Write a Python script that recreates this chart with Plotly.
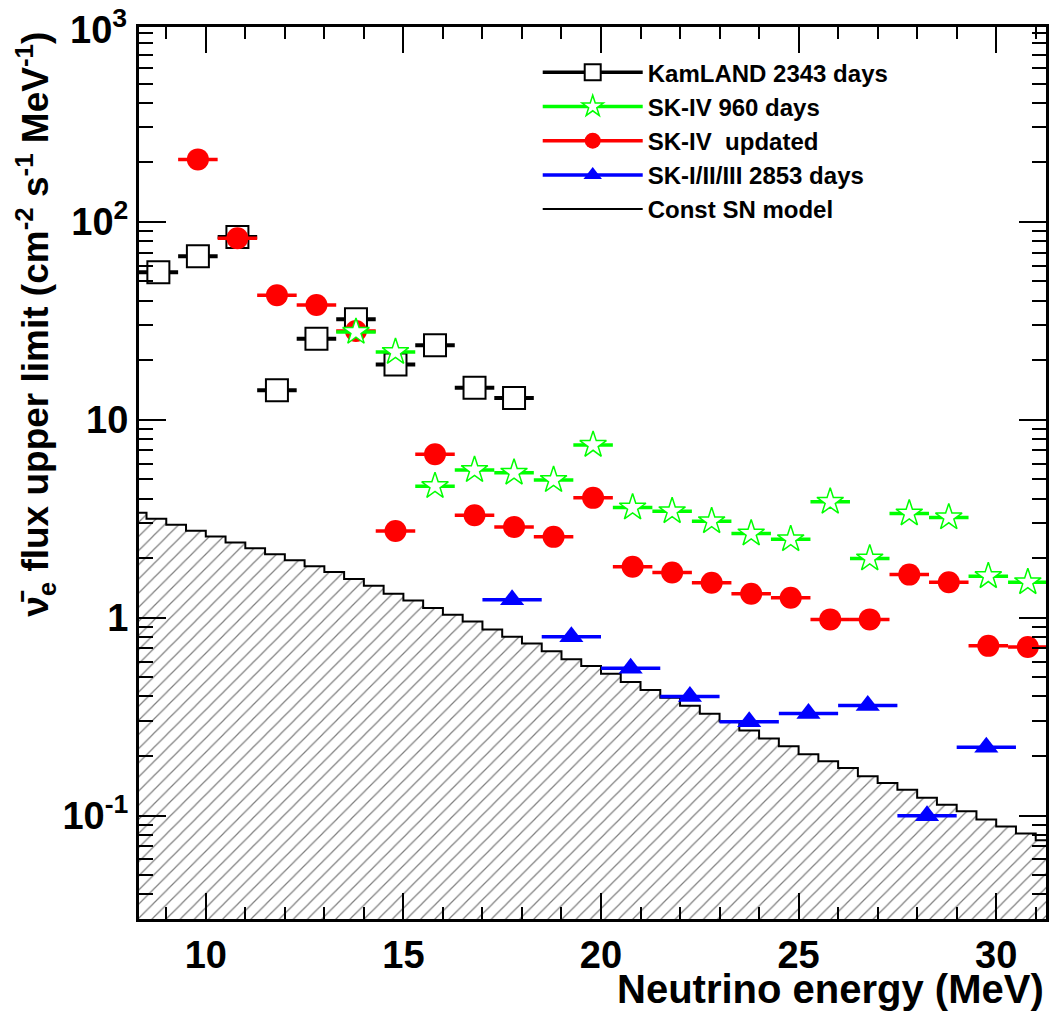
import plotly.graph_objects as go

# ---------------- data ----------------
kam_E = [8.8, 9.8, 10.8, 11.8, 12.8, 13.8, 14.8, 15.8, 16.8, 17.8]
kam_flux = [55.6, 67.0, 84.0, 14.1, 25.7, 32.2, 19.0, 23.8, 14.5, 12.9]
kam_halfwidth = 0.5

sk4_960_E = [13.8, 14.8, 15.8, 16.8, 17.8, 18.8, 19.8, 20.8, 21.8, 22.8,
             23.8, 24.8, 25.8, 26.8, 27.8, 28.8, 29.8, 30.8]
sk4_960_flux = [27.8, 22.0, 4.62, 5.57, 5.40, 4.96, 7.46, 3.60, 3.45, 3.07,
                2.66, 2.49, 3.85, 1.99, 3.36, 3.21, 1.62, 1.51]
sk4_960_halfwidth = 0.5

sk4_upd_E = [9.8, 10.8, 11.8, 12.8, 13.8, 14.8, 15.8, 16.8, 17.8, 18.8, 19.8,
             20.8, 21.8, 22.8, 23.8, 24.8, 25.8, 26.8, 27.8, 28.8, 29.8, 30.8]
sk4_upd_flux = [207.0, 82.6, 42.6, 38.0, 28.1, 2.74, 6.70, 3.29, 2.87, 2.56, 4.03,
                1.81, 1.69, 1.50, 1.32, 1.26, 0.98, 0.98, 1.65, 1.51, 0.72, 0.71]
sk4_upd_halfwidth = 0.5

sk123_E = [17.75, 19.25, 20.75, 22.25, 23.75, 25.25, 26.75, 28.25, 29.75]
sk123_flux = [1.23, 0.80, 0.555, 0.40, 0.298, 0.328, 0.36, 0.0996, 0.221]
sk123_halfwidth = 0.75

# Constant SN model (step edges and values)
sn_E = [8.0, 8.5, 9.0, 9.5, 10.0, 10.5, 11.0, 11.5, 12.0, 12.5, 13.0, 13.5,
        14.0, 14.5, 15.0, 15.5, 16.0, 16.5, 17.0, 17.5, 18.0, 18.5, 19.0, 19.5,
        20.0, 20.5, 21.0, 21.5, 22.0, 22.5, 23.0, 23.5, 24.0, 24.5, 25.0, 25.5,
        26.0, 26.5, 27.0, 27.5, 28.0, 28.5, 29.0, 29.5, 30.0, 30.5, 31.0, 31.5]
sn_flux = [3.39, 3.16, 2.95, 2.75, 2.57, 2.40, 2.24, 2.09, 1.95, 1.82, 1.70, 1.57,
           1.45, 1.32, 1.22, 1.12, 1.035, 0.955, 0.87, 0.80, 0.74, 0.676, 0.617, 0.569,
           0.52, 0.473, 0.431, 0.394, 0.359, 0.327, 0.299, 0.269, 0.245, 0.224, 0.204, 0.188,
           0.174, 0.158, 0.146, 0.135, 0.123, 0.1135, 0.105, 0.0955, 0.088, 0.081, 0.075, 0.069]

y_tickvals = [0.1, 1, 10, 100]
y_ticktext = ["10<sup>-1</sup>", "1", "10", "10<sup>2</sup>"]
y_top_label = "10<sup>3</sup>"

FONT = "Liberation Sans, Arial, Helvetica, sans-serif"

fig = go.Figure()

# hatched model area
fig.add_trace(go.Scatter(
    x=sn_E, y=sn_flux, mode="lines", line=dict(width=0, shape="hv", color="black"),
    fill="tozeroy", fillcolor="white",
    fillpattern=dict(shape="/", fgcolor="black", bgcolor="white", size=10, solidity=0.12),
    showlegend=False, hoverinfo="skip"))
fig.add_trace(go.Scatter(
    x=sn_E, y=sn_flux, mode="lines", line=dict(width=2, shape="hv", color="black"),
    showlegend=False))

def add_series(x, y, hw, color, symbol, size, fill, lw, barw):
    fig.add_trace(go.Scatter(
        x=x, y=y, mode="markers",
        marker=dict(symbol=symbol, size=size, color=fill, line=dict(color=color, width=lw)),
        error_x=dict(type="constant", value=hw, color=color, thickness=barw, width=0),
        showlegend=False))

add_series(kam_E, kam_flux, kam_halfwidth, "black", "square", 22, "white", 2, 4)
add_series(sk4_upd_E, sk4_upd_flux, sk4_upd_halfwidth, "red", "circle", 22, "red", 0, 3.5)
add_series(sk4_960_E, sk4_960_flux, sk4_960_halfwidth, "#00ff00", "star", 20, "white", 1.5, 3.5)
add_series(sk123_E, sk123_flux, sk123_halfwidth, "blue", "triangle-up", 21, "blue", 0, 3.5)

# legend entries
def legend_entry(name, color, symbol, fill, lw_marker, lw_line):
    fig.add_trace(go.Scatter(
        x=[None], y=[None], mode="lines+markers" if symbol else "lines", name=name,
        line=dict(color=color, width=lw_line),
        marker=dict(symbol=symbol or "circle", size=16, color=fill,
                    line=dict(color=color, width=lw_marker))))

legend_entry("KamLAND 2343 days", "black", "square", "white", 2, 3.5)
legend_entry("SK-IV 960 days", "#00ff00", "star", "white", 1.5, 3.5)
legend_entry("SK-IV  updated", "red", "circle", "red", 0, 3.5)
legend_entry("SK-I/II/III 2853 days", "blue", "triangle-up", "blue", 0, 3.5)
legend_entry("Const SN model", "black", None, "black", 0, 2)

axis_common = dict(
    showline=True, linewidth=3, linecolor="black", mirror="ticks",
    ticks="inside", tickwidth=2, tickcolor="black",
    showgrid=False, zeroline=False,
    tickfont=dict(family=FONT, size=38, color="black", weight="bold"),
)

fig.update_xaxes(
    range=[8.31, 31.26], tickmode="linear", tick0=0, dtick=5, ticklen=26,
    minor=dict(ticks="inside", ticklen=12, tickwidth=2, dtick=1, tickcolor="black"),
    **axis_common)
fig.update_yaxes(
    type="log", range=[-1.523, 2.985], tickmode="array",
    tickvals=y_tickvals, ticktext=y_ticktext, ticklen=27,
    minor=dict(ticks="inside", ticklen=14, tickwidth=2, dtick="D1", tickcolor="black"),
    **axis_common)

fig.update_layout(
    width=1055, height=1012,
    margin=dict(l=139, r=6, t=27, b=93),
    paper_bgcolor="white", plot_bgcolor="white",
    font=dict(family=FONT, color="black"),
    showlegend=True,
    legend=dict(x=0.4396, y=0.974, xanchor="left", yanchor="top",
                bgcolor="rgba(255,255,255,0)", borderwidth=0,
                itemwidth=100,
                font=dict(family=FONT, size=24, color="black", weight="bold")),
    annotations=[
        dict(text=y_top_label, xref="paper", yref="paper",
             x=0, y=1.0, xanchor="right", yanchor="middle", xshift=-10, showarrow=False,
             font=dict(family=FONT, size=38, color="black", weight="bold")),
        dict(text="Neutrino energy (MeV)", xref="paper", yref="paper",
             x=1.0, y=-0.079, xanchor="right", yanchor="middle", showarrow=False,
             font=dict(family=FONT, size=40, color="black", weight="bold")),
        dict(text="ν̄<sub>e</sub> flux upper limit (cm<sup>-2</sup> s<sup>-1</sup> MeV<sup>-1</sup>)",
             xref="paper", yref="paper", x=-0.115, y=0.997, xanchor="center", yanchor="top",
             textangle=-90, showarrow=False,
             font=dict(family=FONT, size=37, color="black", weight="bold")),
    ],
)

fig.write_html("out.html")
